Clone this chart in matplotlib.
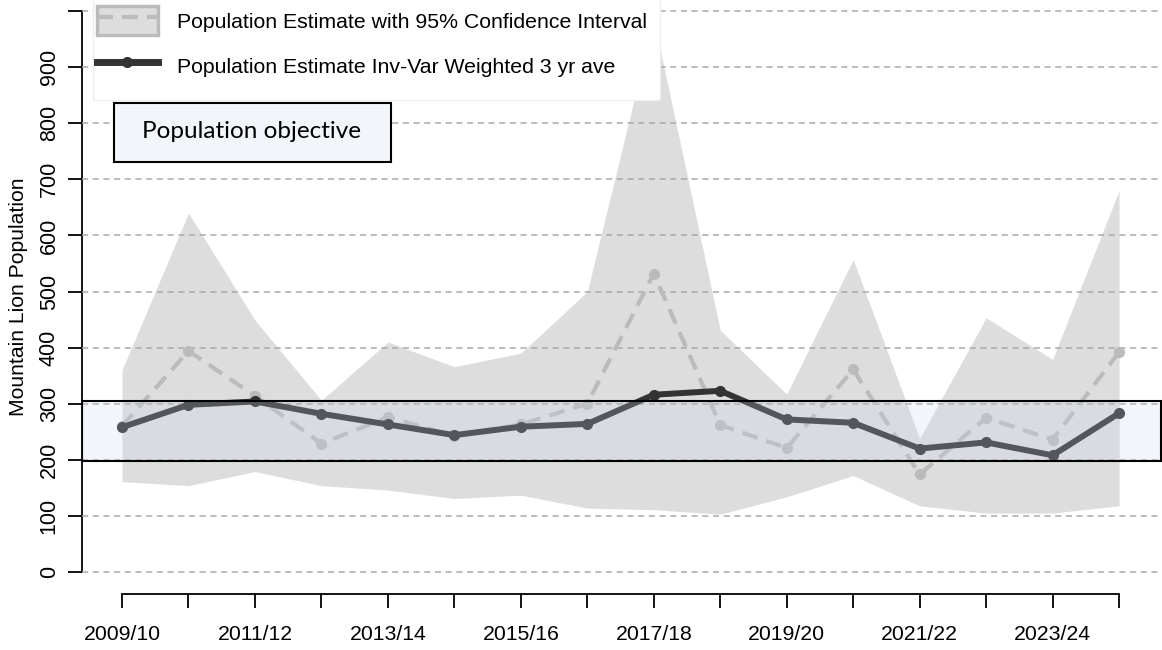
import matplotlib
matplotlib.use("Agg")
import matplotlib.pyplot as plt
from matplotlib.patches import Patch, Rectangle
from matplotlib.lines import Line2D

plt.rcParams['font.family'] = ['Liberation Sans', 'DejaVu Sans']

seasons = ["2009/10", "2010/11", "2011/12", "2012/13", "2013/14", "2014/15",
           "2015/16", "2016/17", "2017/18", "2018/19", "2019/20", "2020/21",
           "2021/22", "2022/23", "2023/24", "2024/25"]
estimate = [260, 394, 314, 229, 276, 243, 263, 300, 532, 262, 221, 361, 174, 275, 236, 392]
ci_lower = [161, 154, 179, 154, 146, 131, 137, 114, 111, 103, 134, 172, 118, 105, 105, 118]
ci_upper = [360, 640, 449, 306, 410, 366, 390, 500, 985, 431, 317, 557, 238, 453, 379, 680]
weighted_avg = [258, 298, 304, 282, 263, 244, 259, 264, 316, 323, 272, 266, 220, 231, 208, 283]
objective_low, objective_high = 198, 304
y_ticks = [0, 100, 200, 300, 400, 500, 600, 700, 800, 900, 1000]

W, H = 1162, 650
fig = plt.figure(figsize=(W / 100, H / 100), dpi=100)
ax = fig.add_axes([82 / W, (H - 594) / H, (W - 82) / W, 594 / H])

x = list(range(len(seasons)))

# confidence band
ax.fill_between(x, ci_lower, ci_upper, color='#dddddd', lw=0, zorder=1)

# estimate (dashed) and weighted average (solid)
ax.plot(x, estimate, color='#bbbbbb', lw=3, ls=(0, (3.8, 2.2)),
        marker='o', ms=7, zorder=3)
ax.plot(x, weighted_avg, color='#333333', lw=4.3, marker='o', ms=7, zorder=3.5)

# population objective overlay
ax.axhspan(objective_low, objective_high, xmin=0, xmax=0.999,
           facecolor=(0.78, 0.83, 0.92, 0.22), edgecolor='black', lw=1.5, zorder=4)

ax.set_xlim(-0.602, 15.646)
ax.set_ylim(-39.2, 1019.6)

ax.set_yticks(y_ticks)
ax.set_yticklabels([str(v) if v < 1000 else "" for v in y_ticks],
                   rotation=90, va='center', fontsize=15.5)
ax.set_xticks(x)
ax.set_xticklabels([s if i % 2 == 0 else "" for i, s in enumerate(seasons)], fontsize=15.3)

ax.grid(axis='y', color='#aaaaaa', ls=(0, (4, 3)), lw=1.1, zorder=2)
ax.set_axisbelow(False)

for side in ['top', 'right']:
    ax.spines[side].set_visible(False)
ax.spines['left'].set_bounds(0, 1000)
ax.spines['bottom'].set_bounds(0, 15)
ax.spines['left'].set_linewidth(1.3)
ax.spines['bottom'].set_linewidth(1.3)
ax.tick_params(axis='y', length=10, width=1.3, pad=6)
ax.tick_params(axis='x', length=10, width=1.3, pad=12)

ax.set_ylabel("Mountain Lion Population", fontsize=15.2, labelpad=8)

# legend background (white box running off the top)
ax.add_patch(Rectangle((93 / W, 1 - 100 / H), (660 - 93) / W, 100 / H + 0.05,
                       transform=fig.transFigure, facecolor='white',
                       edgecolor='#eeeeee', lw=1, clip_on=False, zorder=4.5))

h1 = (Patch(facecolor='#dddddd', edgecolor='#bbbbbb', lw=2.5),
      Line2D([], [], color='#bbbbbb', lw=3, ls=(0, (3.8, 2.2))))
h2 = Line2D([], [], color='#333333', lw=5, marker='o', ms=7)
leg = ax.legend([h1, h2],
                ["Population Estimate with 95% Confidence Interval",
                 "Population Estimate Inv-Var Weighted 3 yr ave"],
                loc='upper left', bbox_to_anchor=(97 / W, 1 - 6 / H),
                bbox_transform=fig.transFigure, frameon=False, fontsize=15.3,
                borderpad=0, borderaxespad=0, handlelength=2.87,
                handleheight=1.74, handletextpad=0.9, labelspacing=0.75)
leg.set_zorder(5)

# population objective label box
ax.add_patch(Rectangle((114 / W, 1 - 162 / H), (391 - 114) / W, 59 / H,
                       transform=fig.transFigure, facecolor='#f2f5fa',
                       edgecolor='black', lw=1.5, clip_on=False, zorder=6))
ax.text(252 / W, 1 - 132 / H, "Population objective", transform=fig.transFigure,
        ha='center', va='center', fontsize=17.5, family=['Lato', 'DejaVu Sans'],
        zorder=7)

fig.savefig("out.png", dpi=100)
